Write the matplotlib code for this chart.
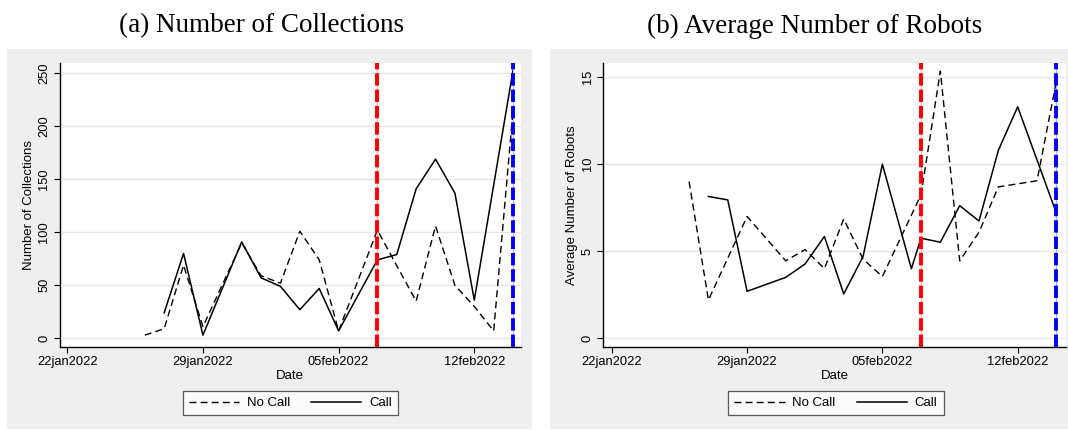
import numpy as np
import matplotlib
matplotlib.use("Agg")
import matplotlib.pyplot as plt
import matplotlib.dates as mdates
from matplotlib.patches import Rectangle

# data
nocall_dates_a = ["2022-01-26", "2022-01-27", "2022-01-28", "2022-01-29", "2022-01-31",
                  "2022-02-01", "2022-02-02", "2022-02-03", "2022-02-04", "2022-02-05",
                  "2022-02-07", "2022-02-09", "2022-02-10", "2022-02-11", "2022-02-12",
                  "2022-02-13", "2022-02-14"]
nocall_a = [3, 9, 69, 11, 90, 59, 52, 101, 74, 7, 102, 35, 106, 50, 30, 7, 215]

call_dates_a = ["2022-01-27", "2022-01-28", "2022-01-29", "2022-01-31", "2022-02-01",
                "2022-02-02", "2022-02-03", "2022-02-04", "2022-02-05", "2022-02-07",
                "2022-02-08", "2022-02-09", "2022-02-10", "2022-02-11", "2022-02-12",
                "2022-02-14"]
call_a = [24, 80, 3, 91, 57, 49, 27, 47, 7, 74, 79, 141, 169, 137, 36, 253]

nocall_dates_b = ["2022-01-26", "2022-01-27", "2022-01-29", "2022-01-31", "2022-02-01",
                  "2022-02-02", "2022-02-03", "2022-02-04", "2022-02-05", "2022-02-07",
                  "2022-02-08", "2022-02-09", "2022-02-10", "2022-02-11", "2022-02-13",
                  "2022-02-14"]
nocall_b = [9.0, 2.2, 7.0, 4.45, 5.1, 4.0, 6.85, 4.55, 3.55, 8.25, 15.35, 4.45, 6.1, 8.7, 9.05, 14.75]

call_dates_b = ["2022-01-27", "2022-01-28", "2022-01-29", "2022-01-31", "2022-02-01",
                "2022-02-02", "2022-02-03", "2022-02-04", "2022-02-05", "2022-02-06T12:00",
                "2022-02-07", "2022-02-08", "2022-02-09", "2022-02-10", "2022-02-11",
                "2022-02-12", "2022-02-14"]
call_b = [8.15, 7.95, 2.7, 3.5, 4.27, 5.85, 2.55, 4.7, 10.0, 4.0, 5.75, 5.52, 7.62, 6.74, 10.8, 13.3, 7.2]

tick_dates = ["2022-01-22", "2022-01-29", "2022-02-05", "2022-02-12"]
tick_labels = ["22jan2022", "29jan2022", "05feb2022", "12feb2022"]
red_date = "2022-02-07"
blue_date = "2022-02-14"

titles = ["(a) Number of Collections", "(b) Average Number of Robots"]
ylabels = ["Number of Collections", "Average Number of Robots"]
yticks = [[0, 50, 100, 150, 200, 250], [0, 5, 10, 15]]
ylims = [(-8.2, 259.4), (-0.5, 15.8)]


def d(lst):
    return mdates.date2num(np.array(lst, dtype="datetime64[m]"))


W, H = 1068, 430
fig = plt.figure(figsize=(W / 100, H / 100), dpi=100)
fig.patch.set_facecolor("white")

sans = "Liberation Sans"
serif = "Liberation Serif"
bg = "#efefef"

# panel boxes (pixels): grey background, axes area, title centre, legend centre
panels = [
    dict(box=(7, 49, 532, 429), ax=(59.5, 63.3, 521, 347), title_x=262, leg_x=290.5,
         ylab_x=29, xl=(-0.40, 23.41)),
    dict(box=(550, 49, 1068, 429), ax=(602.9, 63.3, 1066, 347), title_x=815, leg_x=836,
         ylab_x=572, xl=(-0.46, 23.5)),
]
series = [
    (nocall_dates_a, nocall_a, call_dates_a, call_a),
    (nocall_dates_b, nocall_b, call_dates_b, call_b),
]

base = d(["2022-01-22"])[0]

for i, p in enumerate(panels):
    bx0, by0, bx1, by1 = p["box"]
    fig.patches.append(Rectangle((bx0 / W, 1 - by1 / H), (bx1 - bx0) / W, (by1 - by0) / H,
                                 transform=fig.transFigure, facecolor=bg, edgecolor="none",
                                 zorder=-5))
    ax0, ay0, ax1, ay1 = p["ax"]
    ax = fig.add_axes([ax0 / W, 1 - ay1 / H, (ax1 - ax0) / W, (ay1 - ay0) / H], zorder=2)
    ax.set_facecolor("white")

    nd, nv, cd, cv = series[i]
    ax.plot(d(nd), nv, color="black", lw=1.0, ls=(0, (5, 3)), label="No Call", zorder=3)
    ax.plot(d(cd), cv, color="black", lw=1.1, ls="-", label="Call", zorder=3)

    for dt, col, halo in [(red_date, "#ff0000", "#ffaaaa"), (blue_date, "#0000ff", "#aaaaff")]:
        x = d([dt])[0]
        ax.axvline(x, color=halo, lw=0.8, zorder=4)
        ax.axvline(x, color=col, lw=2.8, ls=(0, (3.2, 1.0)), zorder=5)

    ax.set_xlim(base + p["xl"][0], base + p["xl"][1])
    ax.set_ylim(*ylims[i])
    ax.set_xticks(d(tick_dates))
    ax.set_xticklabels(tick_labels, fontsize=9.3, family=sans)
    ax.set_yticks(yticks[i])
    ax.set_yticklabels([str(v) for v in yticks[i]], fontsize=9.3, family=sans,
                       rotation=90, va="center")
    ax.yaxis.grid(True, color="#e6e6e6", lw=1.0, zorder=1)
    ax.set_axisbelow(True)
    for s in ["top", "right"]:
        ax.spines[s].set_visible(False)
    for s in ["left", "bottom"]:
        ax.spines[s].set_linewidth(1.0)
        ax.spines[s].set_color("black")
    ax.tick_params(axis="both", length=4.5, width=0.8, colors="black", pad=2)

    ax.set_xlabel("Date", fontsize=9.5, family=sans, labelpad=1.5)
    fig.text(p["ylab_x"] / W, 1 - ((ay0 + ay1) / 2) / H, ylabels[i], rotation=90,
             ha="center", va="center", fontsize=9.5, family=sans)

    fig.text(p["title_x"] / W, 1 - 26 / H, titles[i], ha="center", va="center",
             fontsize=19.5, family=serif)

    h, l = ax.get_legend_handles_labels()
    leg = fig.legend(h, l, loc="center", bbox_to_anchor=(p["leg_x"] / W, 1 - 403 / H),
                     ncol=2, frameon=True, fancybox=False, edgecolor="#333333",
                     handlelength=3.8, columnspacing=1.6, handletextpad=0.6,
                     borderpad=0.45, prop={"family": sans, "size": 9.5})
    leg.get_frame().set_linewidth(0.9)

fig.savefig("out.png", dpi=100, facecolor="white")
